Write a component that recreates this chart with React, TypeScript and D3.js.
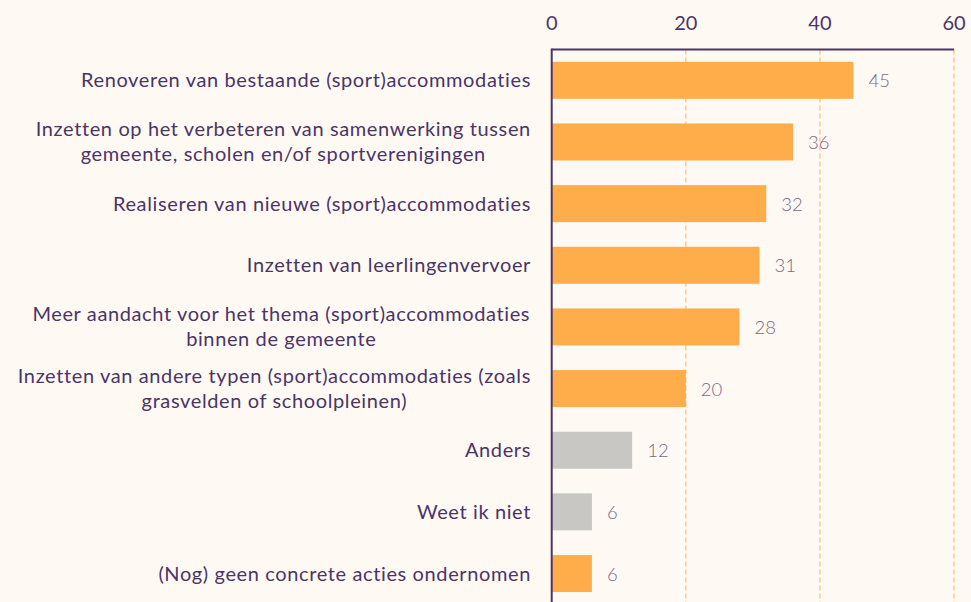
import React from "react";
import * as d3 from "d3";

const categories: string[][] = [
  ["Renoveren van bestaande (sport)accommodaties"],
  ["Inzetten op het verbeteren van samenwerking tussen", "gemeente, scholen en/of sportverenigingen"],
  ["Realiseren van nieuwe (sport)accommodaties"],
  ["Inzetten van leerlingenvervoer"],
  ["Meer aandacht voor het thema (sport)accommodaties", "binnen de gemeente"],
  ["Inzetten van andere typen (sport)accommodaties (zoals", "grasvelden of schoolpleinen)"],
  ["Anders"],
  ["Weet ik niet"],
  ["(Nog) geen concrete acties ondernomen"],
];
const values: number[] = [45, 36, 32, 31, 28, 20, 12, 6, 6];
const isOther: boolean[] = [false, false, false, false, false, false, true, true, false];
const ticks: number[] = [0, 20, 40, 60];

const W = 971;
const H = 602;
const FONT = "Lato, 'Open Sans', sans-serif";
const LABEL_SIZE = 20;
const LETTER = 0.62;

let ctx: CanvasRenderingContext2D | null = null;
function measure(s: string): number {
  if (!ctx) {
    const c = document.createElement("canvas");
    ctx = c.getContext("2d");
  }
  if (!ctx) return s.length * LABEL_SIZE * 0.5;
  ctx.font = `${LABEL_SIZE}px Lato`;
  return ctx.measureText(s).width + LETTER * s.length;
}

export default function App() {
  const x = d3.scaleLinear().domain([0, 60]).range([551.7, 954]);
  const idx = values.map((_, i) => i);
  const y = d3
    .scaleBand<number>()
    .domain(idx)
    .range([49.5, 49.5 + 61.65 * 9])
    .paddingInner(0.4)
    .paddingOuter(0.2);
  const axisY = 49.5;
  const labelRight = 531;
  return (
    <div style={{ position: "fixed", left: 0, top: 0, width: W, height: H }}>
      <svg width={W} height={H} style={{ display: "block", background: "#FFF9F3" }} fontFamily={FONT}>
        <rect x={0} y={0} width={W} height={H} fill="#FFF9F3" />
        {ticks.map((t) =>
          t === 0 ? null : (
            <line
              key={"g" + t}
              x1={x(t)}
              x2={x(t)}
              y1={axisY}
              y2={H}
              stroke="#FFC98A"
              strokeWidth={1.5}
              strokeDasharray="5,3"
            />
          )
        )}
        {ticks.map((t) => (
          <text key={"t" + t} x={x(t)} y={29.5} textAnchor="middle" fontSize={20} fill="#4A3567">
            {t}
          </text>
        ))}
        {idx.map((i) => {
          const by = y(i)!;
          const bh = y.bandwidth();
          const cy = by + bh / 2;
          const lines = categories[i];
          const lh = 25;
          const blockW = Math.max(...lines.map(measure));
          const centerX = labelRight - blockW / 2;
          return (
            <g key={"b" + i}>
              <rect
                x={x(0)}
                y={by}
                width={x(values[i]) - x(0)}
                height={bh}
                fill={isOther[i] ? "#C8C7C3" : "#FFAD4A"}
              />
              <text
                x={x(values[i]) + 15}
                y={cy + 7}
                fontSize={18.5}
                fontWeight={300}
                fill="#7A6A8C"
              >
                {values[i]}
              </text>
              <text fontSize={LABEL_SIZE} fill="#4A3567" letterSpacing={LETTER}>
                {lines.map((l, k) => (
                  <tspan
                    key={k}
                    x={lines.length > 1 ? centerX : labelRight}
                    y={cy + 7 + (k - (lines.length - 1) / 2) * lh}
                    textAnchor={lines.length > 1 ? "middle" : "end"}
                  >
                    {l}
                  </tspan>
                ))}
              </text>
            </g>
          );
        })}
        <line x1={x(0)} x2={x(60)} y1={axisY} y2={axisY} stroke="#4A3567" strokeWidth={2} />
        <line x1={x(0)} x2={x(0)} y1={axisY - 1} y2={H} stroke="#4A3567" strokeWidth={2} />
      </svg>
    </div>
  );
}
